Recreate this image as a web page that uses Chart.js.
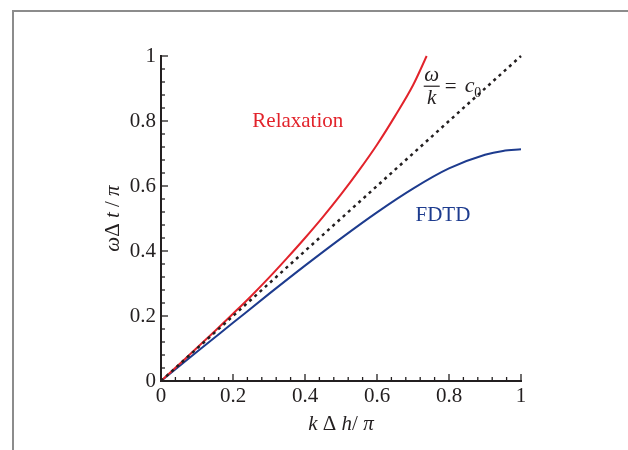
<!DOCTYPE html>
<html>
<head>
<meta charset="utf-8">
<script src="https://cdn.jsdelivr.net/npm/chart.js@4/dist/chart.umd.min.js"></script>
<style>
  html, body { margin: 0; padding: 0; background: #fff; }
  #wrap { position: relative; width: 628px; height: 450px; overflow: hidden; }
  #frame { position: absolute; left: 12px; top: 10px; width: 640px; height: 460px;
           border-top: 2px solid #8c8c8c; border-left: 2px solid #8c8c8c; }
  #dispersion { position: absolute; left: 0; top: 0; }
</style>
</head>
<body>
<div id="wrap">
  <div id="frame"></div>
  <canvas id="dispersion" width="628" height="450"></canvas>
</div>
<script>
// normalised wavenumber kΔh/π and frequency ωΔt/π
const exactK = [0, 1];
const exactW = [0, 1];

const relaxK = [0, 0.05, 0.1, 0.15, 0.2, 0.25, 0.3, 0.35, 0.4, 0.45, 0.5, 0.55, 0.6, 0.65, 0.7, 0.738];
const relaxW = [0, 0.051, 0.102, 0.154, 0.207, 0.261, 0.318, 0.378, 0.44, 0.505, 0.574, 0.648, 0.727, 0.815, 0.91, 1.0];

const fdtdK = [0, 0.1, 0.2, 0.3, 0.4, 0.5, 0.6, 0.7, 0.8, 0.9, 0.95, 1.0];
const fdtdW = [0, 0.09, 0.179, 0.268, 0.355, 0.439, 0.519, 0.592, 0.654, 0.696, 0.708, 0.713];

const tickValues = [0, 0.2, 0.4, 0.6, 0.8, 1];
const tickLabels = ['0', '0.2', '0.4', '0.6', '0.8', '1'];

const ink = '#231f20';
const red = '#e2232b';
const blue = '#1d3b8e';
const serif = '"Liberation Serif", "DejaVu Serif", serif';

const pairs = (xs, ys) => xs.map((x, i) => ({ x: x, y: ys[i] }));

function tickText(value) {
    const i = tickValues.findIndex(t => Math.abs(t - value) < 1e-6);
    return i >= 0 ? tickLabels[i] : '';
}

// inward major/minor ticks on the two axes
const innerTicks = {
    id: 'innerTicks',
    afterDraw(chart) {
        const { ctx, scales: { x, y } } = chart;
        ctx.save();
        ctx.strokeStyle = ink;
        ctx.lineWidth = 1.3;
        for (let i = 0; i <= 25; i++) {
            const v = i * 0.04;
            const len = i % 5 === 0 ? 7 : 4;
            const px = x.getPixelForValue(v);
            ctx.beginPath();
            ctx.moveTo(px, x.top);
            ctx.lineTo(px, x.top - len);
            ctx.stroke();
            const py = y.getPixelForValue(v);
            ctx.beginPath();
            ctx.moveTo(y.right, py);
            ctx.lineTo(y.right + len, py);
            ctx.stroke();
        }
        ctx.restore();
    }
};

// writes a run of [text, font] pieces centred on (cx, cy), rotated by angle
function drawRun(ctx, pieces, cx, cy, angle) {
    ctx.save();
    ctx.translate(cx, cy);
    ctx.rotate(angle);
    let total = 0;
    pieces.forEach(p => { ctx.font = p[1]; total += ctx.measureText(p[0]).width; });
    let pos = -total / 2;
    ctx.textAlign = 'left';
    ctx.textBaseline = 'middle';
    pieces.forEach(p => {
        ctx.font = p[1];
        ctx.fillText(p[0], pos, 0);
        pos += ctx.measureText(p[0]).width;
    });
    ctx.restore();
}

// axis titles, curve labels and the ω/k = c0 note
const curveLabels = {
    id: 'curveLabels',
    afterDraw(chart) {
        const { ctx, scales: { x, y } } = chart;
        const it = 'italic 21px ' + serif;
        const up = '21px ' + serif;
        ctx.save();
        ctx.fillStyle = ink;
        drawRun(ctx, [['k', it], [' Δ ', up], ['h', it], ['/ ', up], ['π', it]],
            (x.left + x.right) / 2, 424, 0);
        drawRun(ctx, [['ω', it], ['Δ ', up], ['t', it], [' / ', up], ['π', it]],
            113, (y.top + y.bottom) / 2, -Math.PI / 2);

        ctx.textAlign = 'center';
        ctx.textBaseline = 'middle';
        ctx.font = '21px ' + serif;
        ctx.fillStyle = red;
        ctx.fillText('Relaxation', x.getPixelForValue(0.38), y.getPixelForValue(0.797));
        ctx.fillStyle = blue;
        ctx.fillText('FDTD', x.getPixelForValue(0.783), y.getPixelForValue(0.51));

        const fx = x.getPixelForValue(0.752);
        const fy = y.getPixelForValue(0.907);
        ctx.fillStyle = ink;
        ctx.strokeStyle = ink;
        ctx.font = 'italic 21px ' + serif;
        ctx.fillText('ω', fx, fy - 11);
        ctx.fillText('k', fx, fy + 12);
        ctx.lineWidth = 1.2;
        ctx.beginPath();
        ctx.moveTo(fx - 8, fy);
        ctx.lineTo(fx + 8, fy);
        ctx.stroke();
        ctx.font = '21px ' + serif;
        ctx.fillText('=', fx + 19, fy + 1);
        ctx.font = 'italic 22px ' + serif;
        ctx.fillText('c', fx + 38, fy);
        ctx.font = '14px ' + serif;
        ctx.fillText('0', fx + 46, fy + 7);
        ctx.restore();
    }
};

const axisFont = { family: serif, size: 21 };

new Chart(document.getElementById('dispersion'), {
    type: 'scatter',
    data: {
        datasets: [
            {
                label: 'ω/k = c0',
                data: pairs(exactK, exactW),
                showLine: true,
                borderColor: ink,
                borderWidth: 2.5,
                borderDash: [3, 4],
                pointRadius: 0,
                clip: false
            },
            {
                label: 'Relaxation',
                data: pairs(relaxK, relaxW),
                showLine: true,
                borderColor: red,
                borderWidth: 2,
                cubicInterpolationMode: 'monotone',
                pointRadius: 0,
                clip: false
            },
            {
                label: 'FDTD',
                data: pairs(fdtdK, fdtdW),
                showLine: true,
                borderColor: blue,
                borderWidth: 2,
                cubicInterpolationMode: 'monotone',
                pointRadius: 0,
                clip: false
            }
        ]
    },
    options: {
        responsive: false,
        animation: false,
        devicePixelRatio: 1,
        layout: { padding: { top: 56, right: 107, left: 0, bottom: 0 } },
        plugins: {
            legend: { display: false },
            tooltip: { enabled: false }
        },
        scales: {
            x: {
                type: 'linear',
                min: 0,
                max: 1,
                ticks: {
                    stepSize: 0.2,
                    padding: 3,
                    maxRotation: 0,
                    color: ink,
                    font: axisFont,
                    callback: tickText
                },
                grid: { drawOnChartArea: false, drawTicks: false },
                border: { display: true, color: ink, width: 2 },
                afterFit(scale) { scale.height = 69; }
            },
            y: {
                type: 'linear',
                min: 0,
                max: 1,
                ticks: {
                    stepSize: 0.2,
                    padding: 5,
                    color: ink,
                    font: axisFont,
                    callback: tickText
                },
                grid: { drawOnChartArea: false, drawTicks: false },
                border: { display: true, color: ink, width: 2 },
                afterFit(scale) { scale.width = 161; }
            }
        }
    },
    plugins: [innerTicks, curveLabels]
});
</script>
</body>
</html>
